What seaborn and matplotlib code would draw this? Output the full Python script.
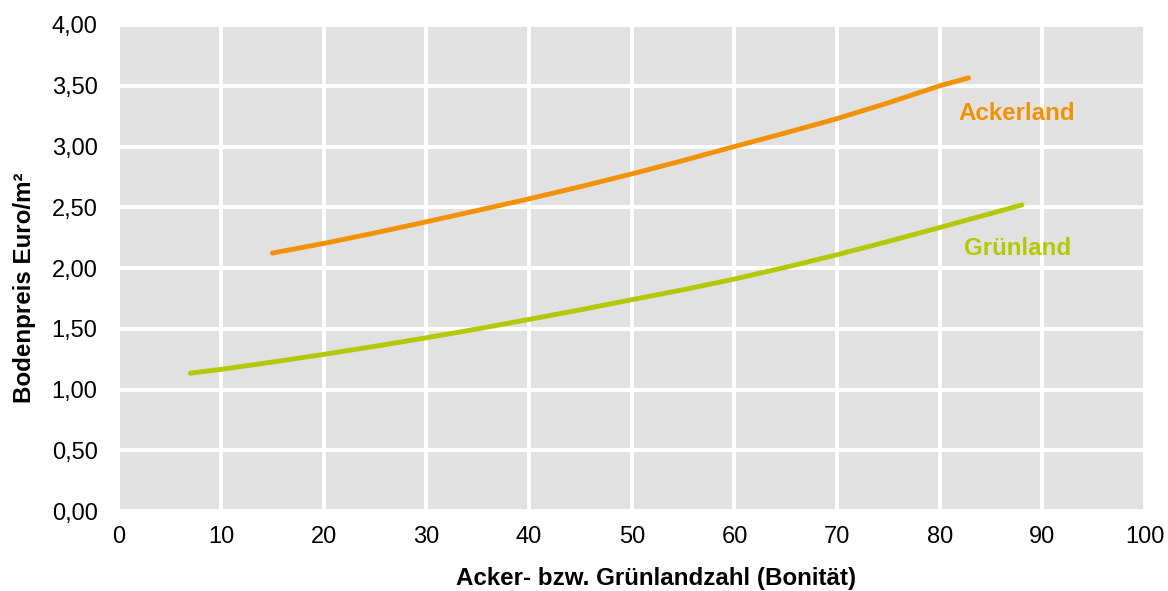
import matplotlib
matplotlib.use("Agg")
import matplotlib.pyplot as plt
import seaborn as sns
import pandas as pd

# Data
acker_x = [15, 20, 25, 30, 35, 40, 45, 50, 55, 60, 65, 70, 75, 80, 82.8]
acker_y = [2.124, 2.203, 2.29, 2.381, 2.475, 2.57, 2.67, 2.775, 2.885, 3.00,
           3.113, 3.23, 3.36, 3.50, 3.565]
gruen_x = [7, 10, 15, 20, 25, 30, 35, 40, 45, 50, 55, 60, 65, 70, 75, 80, 85, 88]
gruen_y = [1.136, 1.167, 1.227, 1.29, 1.357, 1.427, 1.50, 1.578, 1.657, 1.74,
           1.822, 1.91, 2.007, 2.11, 2.22, 2.334, 2.45, 2.52]
x_ticks = [0, 10, 20, 30, 40, 50, 60, 70, 80, 90, 100]
y_ticks = [0.0, 0.5, 1.0, 1.5, 2.0, 2.5, 3.0, 3.5, 4.0]
series_names = ["Ackerland", "Grünland"]
colors = {"Ackerland": "#F39200", "Grünland": "#B4C800"}

df = pd.concat([
    pd.DataFrame({"x": acker_x, "y": acker_y, "s": series_names[0]}),
    pd.DataFrame({"x": gruen_x, "y": gruen_y, "s": series_names[1]}),
])

sns.set_style("darkgrid", {"axes.facecolor": "#E1E1E1", "grid.color": "white"})
plt.rcParams["font.family"] = ["Liberation Sans", "DejaVu Sans"]

fig = plt.figure(figsize=(11.68, 5.91), dpi=100)
ax = fig.add_axes([0.1014, 0.1350, 0.8790, 0.8227])

sns.lineplot(data=df, x="x", y="y", hue="s", palette=colors, linewidth=3.5,
             legend=False, ax=ax, sort=False, solid_capstyle="round",
             solid_joinstyle="round")

ax.set_xlim(0, 100)
ax.set_ylim(0, 4)
ax.set_xticks(x_ticks)
ax.set_yticks(y_ticks)
ax.set_xticklabels([str(v) for v in x_ticks])
ax.set_yticklabels([f"{v:.2f}".replace(".", ",") for v in y_ticks])
ax.tick_params(axis="both", length=0, labelsize=17, colors="black")
ax.tick_params(axis="x", pad=11)
ax.tick_params(axis="y", pad=15)
ax.grid(True, color="white", linewidth=2.8)
for sp in ax.spines.values():
    sp.set_visible(False)

ax.set_xlabel("Acker- bzw. Grünlandzahl (Bonität)", fontsize=17.4,
              fontweight="bold", labelpad=12, color="black")
ax.set_ylabel("Bodenpreis Euro/m²", fontsize=17.4, fontweight="bold",
              labelpad=11, color="black")
ax.xaxis.set_label_coords(0.524, -0.115)
ax.yaxis.set_label_coords(-0.0805, 0.459)

ax.text(87.5, 3.275, "Ackerland", color=colors["Ackerland"], fontsize=17.4,
        fontweight="bold", ha="center", va="center")
ax.text(87.6, 2.16, "Grünland", color=colors["Grünland"], fontsize=17.4,
        fontweight="bold", ha="center", va="center")

fig.savefig("out.png", dpi=100)
